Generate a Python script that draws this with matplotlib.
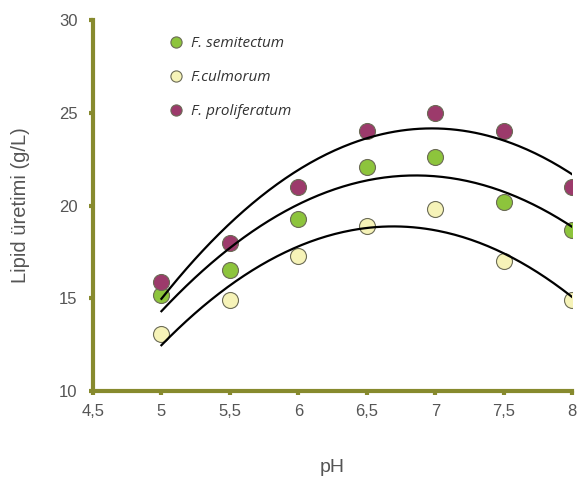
import numpy as np
import matplotlib.pyplot as plt

ph = [5, 5.5, 6, 6.5, 7, 7.5, 8]
semitectum = [15.2, 16.5, 19.3, 22.1, 22.6, 20.2, 18.7]
culmorum = [13.1, 14.9, 17.3, 18.9, 19.8, 17.0, 14.9]
proliferatum = [15.9, 18.0, 21.0, 24.0, 25.0, 24.0, 21.0]

xticks = [4.5, 5, 5.5, 6, 6.5, 7, 7.5, 8]
xtick_labels = ['4,5', '5', '5,5', '6', '6,5', '7', '7,5', '8']
yticks = [10, 15, 20, 25, 30]

axis_col = '#878a2e'
text_col = '#555555'

plt.rcParams['font.family'] = ['Liberation Sans', 'DejaVu Sans']

fig = plt.figure(figsize=(5.81, 4.78), dpi=100)
ax = fig.add_axes([0.160, 0.182, 0.825, 0.776])

series = [
    (semitectum, '#8dc43c', 'F. semitectum'),
    (culmorum, '#f6f3b8', 'F.culmorum'),
    (proliferatum, '#9c3a6b', 'F. proliferatum'),
]

# second order trend line for each series
xs = np.linspace(5, 8, 200)
for vals, col, name in series:
    model = np.poly1d(np.polyfit(ph, vals, 2))
    ax.plot(xs, model(xs), color='black', linewidth=1.6, zorder=3)

for vals, col, name in series:
    ax.plot(ph, vals, 'o', markersize=11.5, markerfacecolor=col,
            markeredgecolor='#6b6b55', markeredgewidth=0.8, label=name,
            linestyle='none', zorder=2)

ax.set_xlim(4.5, 8)
ax.set_ylim(10, 30)
ax.set_xticks(xticks)
ax.set_xticklabels(xtick_labels)
ax.set_yticks(yticks)

for side in ['top', 'right']:
    ax.spines[side].set_visible(False)
for side in ['left', 'bottom']:
    ax.spines[side].set_color(axis_col)
    ax.spines[side].set_linewidth(3)
ax.tick_params(colors=axis_col, width=3, length=3, labelcolor=text_col, labelsize=12)
ax.tick_params(axis='x', pad=6)
ax.tick_params(axis='y', pad=8)

ax.set_xlabel('pH', fontsize=14, color=text_col, labelpad=29)
ax.set_ylabel('Lipid üretimi (g/L)', fontsize=14.5, color=text_col, labelpad=21)

leg = ax.legend(loc='upper left', bbox_to_anchor=(0.158, 0.957), frameon=False,
                borderpad=0, borderaxespad=0, handlelength=1.0,
                labelspacing=1.25, handletextpad=0.45, markerscale=0.7,
                prop={'family': 'Open Sans', 'style': 'italic', 'size': 11})
for t in leg.get_texts():
    t.set_color('#333333')

plt.savefig('out.png', dpi=100)
